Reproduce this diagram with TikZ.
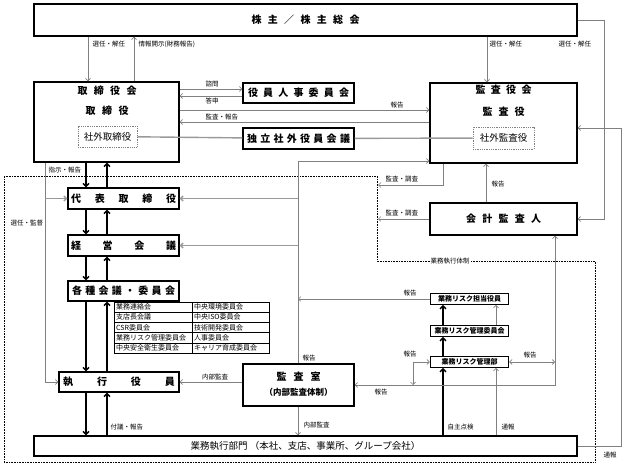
\documentclass[tikz,border=0pt]{standalone}
\usepackage{fontspec}
\setmainfont{Noto Sans CJK JP}
\usetikzlibrary{arrows.meta}
\newcommand{\spr}[2]{\makebox[#1pt]{#2}}
\begin{document}
\begin{tikzpicture}[x=1pt, y=-1pt,
    box/.style={draw, line width=1.1pt, inner sep=0pt, font=\bfseries\fontsize{10}{12}\selectfont},
    txt/.style={inner sep=0pt, font=\bfseries\fontsize{10}{12}\selectfont},
    rbox/.style={draw, line width=1.1pt, inner sep=0pt, minimum width=78pt, minimum height=10.5pt, font=\bfseries\fontsize{7}{8}\selectfont},
    sub/.style={draw=gray, densely dotted, line width=0.8pt, inner sep=0pt, font=\fontsize{9.5}{11}\selectfont},
    lbl/.style={inner sep=0.5pt, font=\fontsize{6.5}{7}\selectfont},
    tbl/.style={inner sep=0pt, anchor=west, font=\fontsize{7}{8}\selectfont},
    ln/.style={draw=gray, line width=0.7pt},
    arr/.style={ln, -{Straight Barb[length=2.5pt,width=5pt]}},
    dar/.style={ln, {Straight Barb[length=2.5pt,width=5pt]}-{Straight Barb[length=2.5pt,width=5pt]}},
    wide/.style={draw=gray!80, line width=1.4pt},
    widearr/.style={wide, -{Straight Barb[length=2.5pt,width=5pt]}},
    thk/.style={line width=1.4pt, -{Straight Barb[length=3pt,width=6pt]}}]
  \useasboundingbox (0,0) rectangle (624,465);

  % columns and rows
  \coordinate (xsel) at (88,0);
  \coordinate (xinfo) at (134,0);
  \coordinate (xaud) at (487,0);
  \coordinate (xr1) at (604,0);
  \coordinate (xr2) at (621,0);
  \coordinate (xl) at (45,0);
  \coordinate (xdn) at (86,0);
  \coordinate (xup) at (107,0);
  \coordinate (xia) at (298,0);
  \coordinate (xsv) at (443,0);
  \coordinate (xdot) at (378,0);
  \coordinate (xrep) at (486,0);
  \coordinate (xrk) at (443,0);
  \coordinate (xrg) at (496,0);
  \coordinate (xrb) at (413,0);
  \coordinate (xra) at (555,0);
  \coordinate (y89) at (0,89);
  \coordinate (y96) at (0,96);
  \coordinate (y110) at (0,110);
  \coordinate (y122) at (0,122);
  \coordinate (y128) at (0,128);
  \coordinate (y162) at (0,161);
  \coordinate (y185) at (0,185);

  % execution area
  \draw[densely dotted, line width=0.6pt] (4,176) -- (377,176) -- (377,261) -- (595,261)
    -- (595,462) -- (4,462) -- cycle;
  \node[lbl, fill=white, inner sep=1pt] (exsys) at (450,261) {業務執行体制};

  % boxes
  \node[box, minimum width=543pt, minimum height=32pt] (share) at (305.5,20)
    {\spr{108}{株\hfill 主\hfill ／\hfill 株\hfill 主\hfill 総\hfill 会}};
  \node[box, minimum width=145pt, minimum height=80pt] (board) at (106.5,122) {};
  \node[txt] (boardt) at (107,91) {\spr{59}{取\hfill 締\hfill 役\hfill 会}};
  \node[txt] (dirt) at (107,111) {\spr{43}{取\hfill 締\hfill 役}};
  \node[sub, minimum width=59pt, minimum height=21pt] (outdir) at (107.5,136.5) {社外取締役};
  \node[box, minimum width=111pt, minimum height=20pt] (nom) at (298.5,93)
    {\spr{101}{役\hfill 員\hfill 人\hfill 事\hfill 委\hfill 員\hfill 会}};
  \node[box, minimum width=111pt, minimum height=21pt] (indep) at (298.5,138.5)
    {\spr{103}{独\hfill 立\hfill 社\hfill 外\hfill 役\hfill 員\hfill 会\hfill 議}};
  \node[box, minimum width=147pt, minimum height=80pt] (audit) at (503.5,123) {};
  \node[txt] (auditt) at (503.5,90) {\spr{56}{監\hfill 査\hfill 役\hfill 会}};
  \node[txt] (audt) at (503.5,112) {\spr{42}{監\hfill 査\hfill 役}};
  \node[sub, minimum width=61pt, minimum height=22pt] (outaud) at (503.5,138) {社外監査役};
  \node[box, minimum width=147pt, minimum height=32pt] (acct) at (503.5,219)
    {\spr{75}{会\hfill 計\hfill 監\hfill 査\hfill 人}};
  \node[box, minimum width=111pt, minimum height=21pt] (ceo) at (123.5,198.5)
    {\spr{105}{代\hfill 表\hfill 取\hfill 締\hfill 役}};
  \node[box, minimum width=111pt, minimum height=21pt] (mgmt) at (123.5,245.5)
    {\spr{105}{経\hfill 営\hfill 会\hfill 議}};
  \node[box, minimum width=111pt, minimum height=20pt] (cmte) at (123.5,291)
    {\spr{103}{各\hfill 種\hfill 会\hfill 議\hfill ・\hfill 委\hfill 員\hfill 会}};
  \node[box, minimum width=120pt, minimum height=20pt] (exec) at (119,382)
    {\spr{112}{執\hfill 行\hfill 役\hfill 員}};
  \node[box, minimum width=111pt, minimum height=42pt] (iaudit) at (298.5,385) {};
  \node[txt] (iauditt) at (298.5,377) {\spr{44}{監\hfill 査\hfill 室}};
  \node[txt, font=\bfseries\fontsize{8.5}{10}\selectfont] (iaudits) at (298.5,392) {（内部監査体制）};
  \node[rbox] (riskoff) at (469.5,299) {業務リスク担当役員};
  \node[rbox] (riskcom) at (469.5,331) {業務リスク管理委員会};
  \node[rbox] (riskdep) at (469.5,362) {業務リスク管理部};
  \node[box, minimum width=543pt, minimum height=20pt, font=\fontsize{9.5}{11}\selectfont] (ops) at (305.5,446)
    {業務執行部門 （本社、支店、事業所、グループ会社）};

  % committees
  \draw[line width=0.5pt] (114,302) rectangle (269,353);
  \foreach \i in {1,...,4}
    \draw[line width=0.5pt] (114,302+10.2*\i) -- (269,302+10.2*\i);
  \draw[line width=0.5pt] (192,302) -- (192,353);
  \foreach \l/\r [count=\i] in {業務連絡会/中央環境委員会, 支店長会議/中央ISO委員会,
      CSR委員会/技術開発委員会, 業務リスク管理委員会/人事委員会, 中央安全衛生委員会/キャリア育成委員会} {
    \node[tbl] (tl\i) at (116,296.9+10.2*\i) {\l};
    \node[tbl] (tr\i) at (194,296.9+10.2*\i) {\r};
  }

  % shareholders
  \draw[arr] (share.south -| xsel) -- (board.north -| xsel);
  \draw[arr] (board.north -| xinfo) -- (share.south -| xinfo);
  \draw[arr] (share.south -| xaud) -- (audit.north -| xaud);
  \draw[arr] (share.east) -- (share.east -| xr1) -- (xr1 |- acct.east) -- (acct.east);
  \draw[arr] (ops.east) -- (ops.east -| xr2) -- (xr2 |- y128) -- (audit.east |- y128);

  % board
  \draw[arr] (board.east |- y89) -- (nom.west |- y89);
  \draw[arr] (nom.west |- y96) -- (board.east |- y96);
  \draw[arr] (board.east |- y110) -- (audit.west |- y110);
  \draw[arr] (audit.west |- y122) -- (board.east |- y122);
  \draw[wide] (outdir) -- (indep) -- (outaud);
  \draw[arr] (board.south -| xl) -- (xl |- exec.west) -- (exec.west);
  \draw[widearr] (xl |- ceo.west) -- (ceo.west);

  % chain of command
  \foreach \a/\b in {board/ceo, ceo/mgmt, mgmt/cmte, cmte/exec, exec/ops} {
    \draw[thk] (\a.south -| xdn) -- (\b.north -| xdn);
    \draw[thk] (\b.north -| xup) -- (\a.south -| xup);
  }

  % internal audit
  \draw[arr] (iaudit.north -| xia) -- (xia |- y162) -- (audit.west |- y162);
  \draw[widearr] (ceo.east -| xia) -- (ceo.east);
  \draw[widearr] (mgmt.east -| xia) -- (mgmt.east);
  \draw[arr] (iaudit.west |- exec.east) -- (exec.east);
  \draw[arr] (iaudit.south -| xia) -- (ops.north -| xia);

  % auditors
  \draw[arr] (audit.south -| xsv) -- (xsv |- y185) -- (xdot |- y185);
  \draw[arr] (acct.west) -- (acct.west -| xdot);
  \draw[arr] (acct.north -| xrep) -- (audit.south -| xrep);

  % risk
  \draw[arr] (riskoff.west) -- (riskoff.west -| xia);
  \draw[thk] (ops.north -| xrk) -- (riskdep.south -| xrk);
  \draw[thk] (riskdep.north -| xrk) -- (riskcom.south -| xrk);
  \draw[thk] (riskcom.north -| xrk) -- (riskoff.south -| xrk);
  \draw[arr] (ops.north -| xrg) -- (riskdep.south -| xrg);
  \draw[arr] (riskcom.north -| xrg) -- (riskoff.south -| xrg);
  \draw[dar] (riskdep.west) -- (riskdep.west -| xrb) -- (xrb |- iaudit.east);
  \draw[dar] (riskdep.east) -- (riskdep.east -| xra);
  \draw[dar] (iaudit.east) -- (iaudit.east -| xra) -- (acct.south -| xra);

  % labels
  \node[lbl, anchor=west] (l1) at (92,44) {選任・解任};
  \node[lbl, anchor=west] (l2) at (138,44) {情報開示(財務報告)};
  \node[lbl, anchor=west] (l3) at (489,44) {選任・解任};
  \node[lbl, anchor=west] (l4) at (558,44) {選任・解任};
  \node[lbl] (l5) at (212,84) {諮問};
  \node[lbl] (l6) at (212,101) {答申};
  \node[lbl] (l7) at (397,105) {報告};
  \node[lbl, anchor=west] (l8) at (205,117) {監査・報告};
  \node[lbl, anchor=west] (l9) at (48,170) {指示・報告};
  \node[lbl, anchor=west] (l10) at (10,223) {選任・監督};
  \node[lbl, anchor=west] (l11) at (385,179) {監査・調査};
  \node[lbl, anchor=west] (l12) at (491,184) {報告};
  \node[lbl, anchor=west] (l13) at (385,213) {監査・調査};
  \node[lbl] (l14) at (410,293) {報告};
  \node[lbl, anchor=west] (l15) at (302,358) {報告};
  \node[lbl] (l16) at (410,354) {報告};
  \node[lbl] (l17) at (530,355) {報告};
  \node[lbl] (l18) at (381,392) {報告};
  \node[lbl] (l19) at (215,377) {内部監査};
  \node[lbl, anchor=west] (l20) at (303,425) {内部監査};
  \node[lbl, anchor=west] (l21) at (110,427) {付議・報告};
  \node[lbl, anchor=west] (l22) at (447,427) {自主点検};
  \node[lbl, anchor=west] (l23) at (501,427) {通報};
  \node[lbl] (l24) at (610,455) {通報};
\end{tikzpicture}
\end{document}
